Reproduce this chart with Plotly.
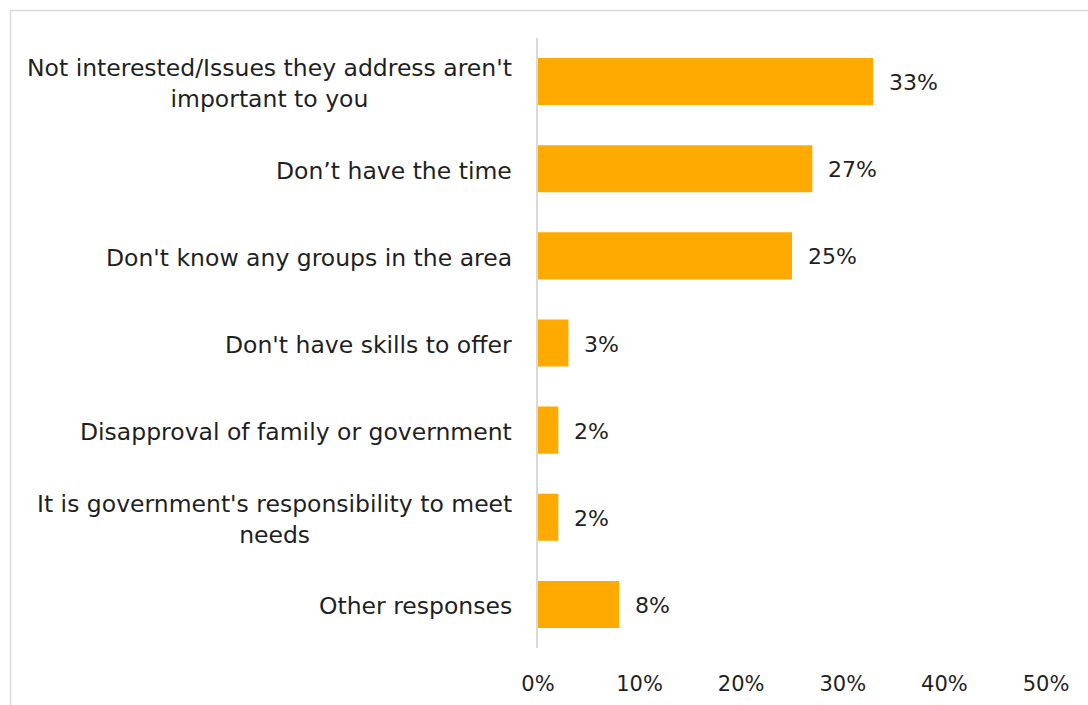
import plotly.graph_objects as go

# Reasons for not taking part in community groups
categories = [
    "Not interested/Issues they address aren't<br>important to you",
    "Don\u2019t have the time",
    "Don't know any groups in the area",
    "Don't have skills to offer",
    "Disapproval of family or government",
    "It is government's responsibility to meet<br>needs",
    "Other responses",
]
shares = [0.33, 0.27, 0.25, 0.03, 0.02, 0.02, 0.08]
x_ticks = [0, 0.1, 0.2, 0.3, 0.4, 0.5]
x_tick_labels = ["0%", "10%", "20%", "30%", "40%", "50%"]

W, H = 1088, 705
ML, MR, MT, MB = 538, 42, 38, 57
FONT = "'DejaVu Sans', sans-serif"
LABEL_SIZE = 23.5
VALUE_SIZE = 22
TICK_SIZE = 21
TEXT_COLOR = "#1F1F1F"
BAR_COLOR = "#FFAA00"
GRID_COLOR = "#D9D9D9"

fig = go.Figure(
    go.Bar(
        x=shares,
        y=list(range(len(categories))),
        orientation="h",
        marker=dict(color=BAR_COLOR, line=dict(width=0)),
        width=0.54,
        hoverinfo="skip",
    )
)

# Category labels, centre-aligned when wrapped
for i, label in enumerate(categories):
    fig.add_annotation(
        x=0, xref="paper", y=i, yref="y",
        text=label, showarrow=False,
        xanchor="right", yanchor="middle", align="center",
        xshift=-24, yshift=-2,
        font=dict(family=FONT, size=LABEL_SIZE, color=TEXT_COLOR),
    )

# Value labels beside each bar
for i, v in enumerate(shares):
    fig.add_annotation(
        x=v, xref="x", y=i, yref="y",
        text=f"{v:.0%}", showarrow=False,
        xanchor="left", yanchor="middle",
        xshift=14, yshift=-1,
        font=dict(family=FONT, size=VALUE_SIZE, color=TEXT_COLOR),
    )

# Light frame on the top and left edges of the chart area
pw, ph = W - ML - MR, H - MT - MB
px = lambda p: (p - ML) / pw
py = lambda p: 1 - (p - MT) / ph
fig.add_shape(type="line", xref="paper", yref="paper",
              x0=px(10), x1=px(W + 5), y0=py(10.5), y1=py(10.5),
              line=dict(color=GRID_COLOR, width=1.5))
fig.add_shape(type="line", xref="paper", yref="paper",
              x0=px(10.5), x1=px(10.5), y0=py(10), y1=py(H + 5),
              line=dict(color=GRID_COLOR, width=1.5))

fig.update_layout(
    width=W, height=H,
    margin=dict(l=ML, r=MR, t=MT, b=MB),
    paper_bgcolor="white", plot_bgcolor="white",
    showlegend=False,
    font=dict(family=FONT, size=VALUE_SIZE, color=TEXT_COLOR),
)
fig.update_xaxes(
    range=[0, 0.5],
    tickvals=x_ticks, ticktext=x_tick_labels,
    showgrid=False, zeroline=False, showline=False,
    ticks="outside", ticklen=0, ticklabelstandoff=17,
    tickfont=dict(family=FONT, size=TICK_SIZE, color=TEXT_COLOR),
    automargin=False,
    fixedrange=True,
)
fig.update_yaxes(
    range=[len(categories) - 0.5, -0.5],
    showticklabels=False, showgrid=False, zeroline=False,
    showline=True, linecolor=GRID_COLOR, linewidth=1.5,
    automargin=False,
    fixedrange=True,
)

fig.write_html("out.html", config={"displayModeBar": False})
